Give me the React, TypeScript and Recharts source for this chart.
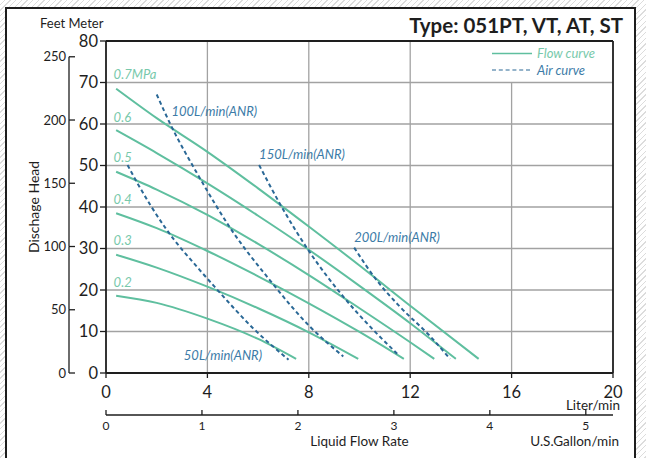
import React from "react";
import { LineChart, Line, XAxis, YAxis, ReferenceLine, ReferenceDot } from "recharts";

const FT_PER_M = 3.28084;
const L_PER_GAL = 3.78541;

const literTicks = [0, 4, 8, 12, 16, 20];
const meterTicks = [0, 10, 20, 30, 40, 50, 60, 70, 80];
const feetTicks = [0, 50, 100, 150, 200, 250];
const gallonTicks = [0, 1, 2, 3, 4, 5];
const hGrid = [10, 20, 30, 40, 50, 60, 70];
const vGrid = [4, 8, 12];

// flow curves, [liter/min, meter]
const flow07 = [[0.4, 68.5], [2, 61.4], [4, 53.3], [6, 44.5], [8, 35.3], [10, 25.9], [12, 16.2], [14.7, 3.4]];
const flow06 = [[0.4, 58.5], [2, 53.0], [4, 45.7], [6, 37.9], [8, 29.7], [10, 21.0], [12, 12.0], [13.8, 3.4]];
const flow05 = [[0.4, 48.5], [2, 44.2], [4, 38.1], [6, 31.1], [8, 23.6], [10, 15.6], [12, 7.4], [12.95, 3.4]];
const flow04 = [[0.4, 38.5], [2, 34.9], [4, 29.4], [6, 23.3], [8, 16.8], [10, 9.9], [11.75, 3.4]];
const flow03 = [[0.4, 28.5], [2, 25.4], [4, 20.8], [6, 15.6], [8, 9.8], [9.95, 3.4]];
const flow02 = [[0.4, 18.6], [2, 16.9], [4, 13.1], [6, 8.2], [7.5, 3.4]];

// air curves
const air50 = [[0.85, 50.1], [1.17, 46.5], [2.36, 34.8], [3.7, 24.8], [4.34, 20.4], [5.8, 10.8], [7.2, 3.2]];
const air100 = [[2.0, 67.1], [2.56, 59.7], [3.67, 47.3], [4.95, 34.5], [6.46, 22.4], [8.04, 11.2], [9.36, 4.0]];
const air150 = [[6.04, 50.1], [6.96, 39.7], [7.97, 29.7], [9.36, 18.4], [10.54, 10.4], [11.53, 4.4]];
const air200 = [[9.79, 30.2], [10.67, 22.4], [11.59, 16.0], [12.78, 8.9], [13.57, 3.4]];

const flowLabels = [
  { text: "0.7MPa", x: 0.3, y: 72 },
  { text: "0.6", x: 0.3, y: 61.7 },
  { text: "0.5", x: 0.3, y: 51.9 },
  { text: "0.4", x: 0.3, y: 41.8 },
  { text: "0.3", x: 0.3, y: 32 },
  { text: "0.2", x: 0.3, y: 21.9 },
];
const airLabels = [
  { text: "100L/min(ANR)", x: 2.58, y: 63.1 },
  { text: "150L/min(ANR)", x: 6.04, y: 52.7 },
  { text: "200L/min(ANR)", x: 9.79, y: 32.7 },
  { text: "50L/min(ANR)", x: 3.07, y: 4.3 },
];

const GREEN = "#5fbf9f";
const GREEN_TXT = "#78c9ab";
const BLUE = "#2a6896";
const BLUE_TXT = "#3c7ba7";
const GRID = "#a2a2a2";
const INK = "#1e1e1e";
const FONT = "Lato, 'Open Sans', sans-serif";

const W = 646;
const H = 458;
const PLOT_H = 332;

const toPts = (arr: number[][]) => arr.map(([x, y]) => ({ x, y }));

const FeetTick = (p: any) => {
  const step = (PLOT_H * 50) / (80 * FT_PER_M);
  return (
    <g>
      <line x1={p.x} x2={p.x + 6} y1={p.y} y2={p.y} stroke={INK} strokeWidth={1.3} />
      {p.payload.value > 0 && (
        <line x1={p.x} x2={p.x} y1={p.y} y2={p.y + step} stroke={INK} strokeWidth={1.3} />
      )}
      <text x={p.x - 3} y={p.y} dy="0.36em" textAnchor="end" fontSize={13} fill={INK} fontFamily={FONT}>
        {p.payload.value}
      </text>
    </g>
  );
};

const GallonTick = (p: any) => (
  <g>
    <line x1={p.x} x2={p.x} y1={p.y} y2={p.y - 5} stroke={INK} strokeWidth={1.3} />
    <text x={p.x} y={p.y + 14.5} textAnchor="middle" fontSize={12} fill={INK} fontFamily={FONT}>
      {p.payload.value}
    </text>
  </g>
);

const flowSeries = [flow07, flow06, flow05, flow04, flow03, flow02];
const airSeries = [air50, air100, air150, air200];

export default function App() {
  return (
    <div
      style={{
        position: "absolute",
        left: 0,
        top: 0,
        width: W,
        height: H,
        overflow: "hidden",
        background: "repeating-linear-gradient(135deg, #ffffff 0px, #ffffff 3px, #dcdcdc 3px, #dcdcdc 4px)",
      }}
    >
      <div
        style={{
          position: "absolute",
          left: 5,
          top: 7,
          width: 627,
          height: 470,
          border: `2px solid ${INK}`,
          background: "#fff",
        }}
      />
      <div style={{ position: "absolute", left: 0, top: 0 }}>
        <LineChart width={W} height={H} margin={{ top: 41, right: 33, bottom: 13, left: 0 }}>
          <XAxis
            xAxisId="x1"
            dataKey="x"
            type="number"
            domain={[0, 20]}
            ticks={literTicks}
            interval={0}
            height={42}
            allowDataOverflow
            axisLine={{ stroke: INK, strokeWidth: 1.8 }}
            tickLine={{ stroke: INK, strokeWidth: 1.3 }}
            tickSize={5}
            tickMargin={8}
            tick={{ fill: INK, fontSize: 16.5, fontFamily: FONT }}
          />
          <XAxis
            xAxisId="x2"
            dataKey="x"
            type="number"
            domain={[0, 20 / L_PER_GAL]}
            ticks={gallonTicks}
            interval={0}
            height={30}
            allowDataOverflow
            axisLine={{ stroke: INK, strokeWidth: 1.3 }}
            tickLine={false}
            tickSize={0}
            tickMargin={0}
            tick={(p: any) => <GallonTick {...p} />}
          />
          <YAxis
            yAxisId="y1"
            type="number"
            domain={[0, 80]}
            ticks={meterTicks}
            interval={0}
            width={37}
            allowDataOverflow
            axisLine={{ stroke: INK, strokeWidth: 1.8 }}
            tickLine={{ stroke: INK, strokeWidth: 1.3 }}
            tickSize={6}
            tickMargin={2}
            tick={{ fill: INK, fontSize: 16.5, fontFamily: FONT }}
          />
          <YAxis
            yAxisId="y2"
            type="number"
            domain={[0, 80 * FT_PER_M]}
            ticks={feetTicks}
            interval={0}
            width={69}
            allowDataOverflow
            axisLine={false}
            tickLine={false}
            tickSize={0}
            tickMargin={0}
            tick={(p: any) => <FeetTick {...p} />}
          />

          {hGrid.map((v) => (
            <ReferenceLine key={`h${v}`} xAxisId="x1" yAxisId="y1" y={v} stroke={GRID} strokeWidth={1.3} />
          ))}
          {vGrid.map((v) => (
            <ReferenceLine key={`v${v}`} xAxisId="x1" yAxisId="y1" x={v} stroke={GRID} strokeWidth={1.3} />
          ))}
          <ReferenceLine
            xAxisId="x1"
            yAxisId="y1"
            segment={[{ x: 16, y: 0 }, { x: 16, y: 70 }]}
            stroke={GRID}
            strokeWidth={1.3}
          />
          <ReferenceLine xAxisId="x1" yAxisId="y1" y={80} stroke={INK} strokeWidth={1.8} />
          <ReferenceLine xAxisId="x1" yAxisId="y1" x={20} stroke={INK} strokeWidth={1.8} />

          {flowSeries.map((s, i) => (
            <Line
              key={`f${i}`}
              xAxisId="x1"
              yAxisId="y1"
              data={toPts(s)}
              dataKey="y"
              type="monotone"
              stroke={GREEN}
              strokeWidth={2}
              dot={false}
              isAnimationActive={false}
            />
          ))}
          {airSeries.map((s, i) => (
            <Line
              key={`a${i}`}
              xAxisId="x1"
              yAxisId="y1"
              data={toPts(s)}
              dataKey="y"
              type="monotone"
              stroke={BLUE}
              strokeWidth={2}
              strokeDasharray="4 3"
              dot={false}
              isAnimationActive={false}
            />
          ))}

          {flowLabels.map((l) => (
            <ReferenceDot
              key={l.text}
              xAxisId="x1"
              yAxisId="y1"
              x={l.x}
              y={l.y}
              r={0}
              fill="none"
              stroke="none"
              label={{ value: l.text, position: "right", offset: 0, fill: GREEN_TXT, fontSize: 13, fontStyle: "italic", fontFamily: FONT }}
            />
          ))}
          {airLabels.map((l) => (
            <ReferenceDot
              key={l.text}
              xAxisId="x1"
              yAxisId="y1"
              x={l.x}
              y={l.y}
              r={0}
              fill="none"
              stroke="none"
              label={{ value: l.text, position: "right", offset: 0, fill: BLUE_TXT, fontSize: 13, fontStyle: "italic", fontFamily: FONT }}
            />
          ))}
        </LineChart>
      </div>
      <svg width={W} height={H} style={{ position: "absolute", left: 0, top: 0, pointerEvents: "none" }} fontFamily={FONT}>
        <text x={623} y={33} textAnchor="end" fontSize={20.5} fontWeight="bold" fill={INK}>
          Type: 051PT, VT, AT, ST
        </text>
        <text x={40} y={27.5} fontSize={13} fill={INK}>
          Feet Meter
        </text>
        <text transform="translate(39,207) rotate(-90)" textAnchor="middle" fontSize={14} fill={INK}>
          Dischage Head
        </text>
        <text x={359.5} y={446} textAnchor="middle" fontSize={13.5} fill={INK}>
          Liquid Flow Rate
        </text>
        <text x={619} y={446} textAnchor="end" fontSize={13.5} fill={INK}>
          U.S.Gallon/min
        </text>
        <text x={620} y={410} textAnchor="end" fontSize={13.5} fill={INK}>
          Liter/min
        </text>
        <line x1={492} x2={532} y1={53.5} y2={53.5} stroke={GREEN} strokeWidth={1.3} />
        <text x={537} y={58} fontSize={13} fontStyle="italic" fill={GREEN_TXT}>
          Flow curve
        </text>
        <line x1={492} x2={532} y1={70} y2={70} stroke={BLUE} strokeWidth={1.2} strokeDasharray="4 2.8" />
        <text x={537} y={74.5} fontSize={13} fontStyle="italic" fill={BLUE_TXT}>
          Air curve
        </text>
      </svg>
    </div>
  );
}
